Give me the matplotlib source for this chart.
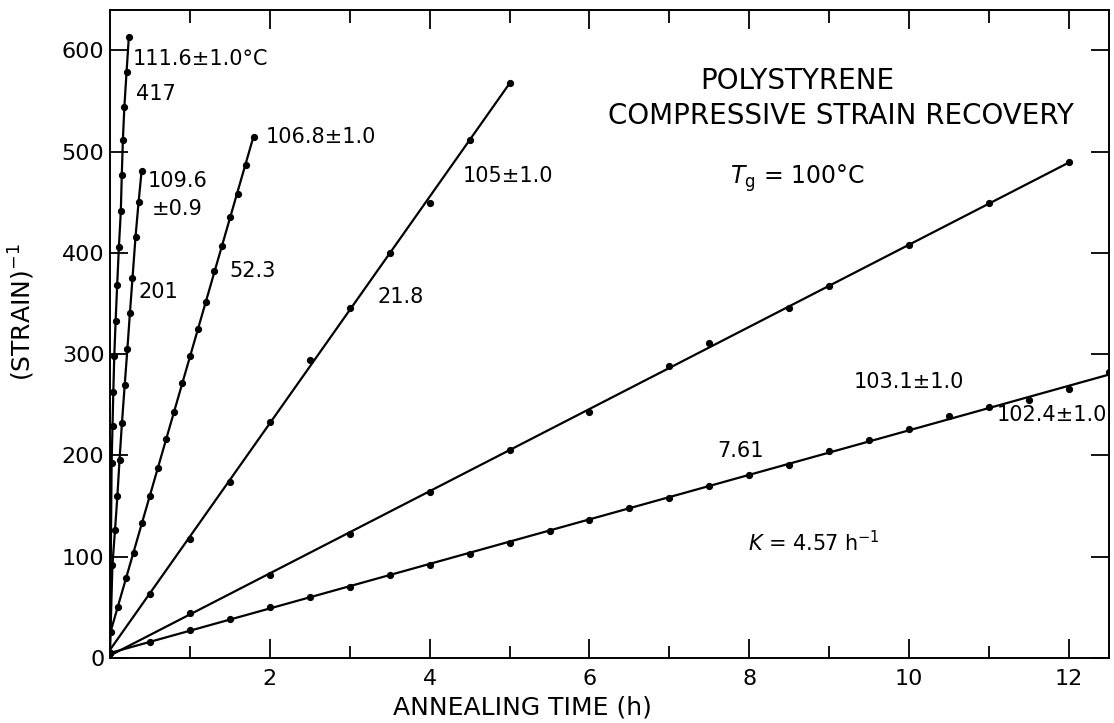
import numpy as np
import matplotlib
matplotlib.use('Agg')
import matplotlib.pyplot as plt

plt.rcParams['font.family'] = ['DejaVu Sans']
plt.rcParams['mathtext.fontset'] = 'dejavusans'

# annealing time (h) and (strain)^-1 for each temperature
t_1116 = [0.0, 0.021, 0.032, 0.042, 0.054, 0.071, 0.090, 0.112, 0.136, 0.148, 0.162, 0.180, 0.208, 0.236]
s_1116 = [5, 193, 229, 263, 298, 333, 368, 406, 441, 477, 512, 544, 579, 613]

t_1096 = [0.0, 0.031, 0.063, 0.093, 0.120, 0.150, 0.185, 0.218, 0.250, 0.282, 0.320, 0.358, 0.396]
s_1096 = [5, 92, 126, 160, 196, 232, 270, 305, 341, 375, 416, 450, 481]

t_1068 = [0.01, 0.1, 0.2, 0.3, 0.4, 0.5, 0.6, 0.7, 0.8, 0.9, 1.0, 1.1, 1.2, 1.3, 1.4, 1.5, 1.6, 1.7, 1.8]
s_1068 = [26, 50, 79, 104, 133, 160, 188, 216, 243, 272, 298, 325, 352, 382, 407, 436, 458, 487, 515]

t_105 = [0.5, 1, 1.5, 2, 2.5, 3, 3.5, 4, 4.5, 5]
s_105 = [63, 118, 174, 233, 294, 346, 400, 449, 512, 568]

t_1031 = [0, 1, 2, 3, 4, 5, 6, 7, 7.5, 8.5, 9, 10, 11, 12]
s_1031 = [5, 44, 82, 122, 164, 205, 243, 288, 311, 346, 367, 408, 449, 490]

t_1024 = [0, 0.5, 1, 1.5, 2, 2.5, 3, 3.5, 4, 4.5, 5, 5.5, 6, 6.5, 7, 7.5, 8, 8.5, 9, 9.5, 10, 10.5, 11, 11.5, 12, 12.5]
s_1024 = [5, 16, 28, 39, 50, 60, 70, 82, 92, 103, 114, 125, 136, 148, 158, 170, 181, 191, 204, 215, 226, 239, 248, 255, 266, 282]

# steep runs are drawn through the points, the others get a straight fit line
series = [(t_1116, s_1116, False), (t_1096, s_1096, False), (t_1068, s_1068, True),
          (t_105, s_105, True), (t_1031, s_1031, True), (t_1024, s_1024, True)]

# labels: (text, x, y)
labels = [
    ('111.6±1.0°C', 0.29, 592),
    ('417', 0.325, 557),
    ('109.6', 0.475, 471),
    ('±0.9', 0.525, 443),
    ('201', 0.36, 361),
    ('106.8±1.0', 1.95, 515),
    ('52.3', 1.5, 382),
    ('105±1.0', 4.41, 476),
    ('21.8', 3.35, 357),
    ('103.1±1.0', 9.31, 273),
    ('7.61', 7.6, 204),
    ('102.4±1.0', 11.1, 240),
    ('$K$ = 4.57 h$^{-1}$', 7.98, 114),
]

x_major = [2, 4, 6, 8, 10, 12]
x_minor = [1, 3, 5, 7, 9, 11]
y_major = [0, 100, 200, 300, 400, 500, 600]

fig = plt.figure(figsize=(11.14, 7.23), dpi=100)
ax = fig.add_axes([0.0987, 0.0899, 0.8968, 0.8963])

for t, s, fit in series:
    if fit:
        k, c = np.polyfit(t, s, 1)
        tt = np.array([0, max(t)])
        ax.plot(tt, k * tt + c, color='black', lw=1.6)
    else:
        ax.plot(t, s, color='black', lw=1.6)
    ax.plot(t, s, ls='none', marker='o', ms=4.2, color='black')

ax.set_xlim(0, 12.5)
ax.set_ylim(0, 640)
ax.set_xticks(x_major)
ax.set_xticks(x_minor, minor=True)
ax.set_yticks(y_major)

for sp in ax.spines.values():
    sp.set_linewidth(1.4)

ax.tick_params(which='both', direction='in', top=True, right=True, width=1.3)
ax.tick_params(axis='x', which='major', length=14, pad=8, labelsize=16)
ax.tick_params(axis='x', which='minor', length=9)
ax.tick_params(axis='y', which='major', length=13, pad=4, labelsize=16)

for txt, x, y in labels:
    ax.text(x, y, txt, fontsize=15, ha='left', va='center')

ax.text(8.6, 570, 'POLYSTYRENE', fontsize=20, ha='center', va='center')
ax.text(9.15, 535, 'COMPRESSIVE STRAIN RECOVERY', fontsize=20, ha='center', va='center')
ax.text(8.6, 474, r'$T_{\rm g}$ = 100°C', fontsize=17, ha='center', va='center')

fig.text(0.02, 0.568, '(STRAIN)$^{-1}$', fontsize=18, rotation=90, ha='center', va='center')
fig.text(0.469, 0.022, 'ANNEALING TIME (h)', fontsize=18, ha='center', va='center')

fig.savefig('out.png', dpi=100)
